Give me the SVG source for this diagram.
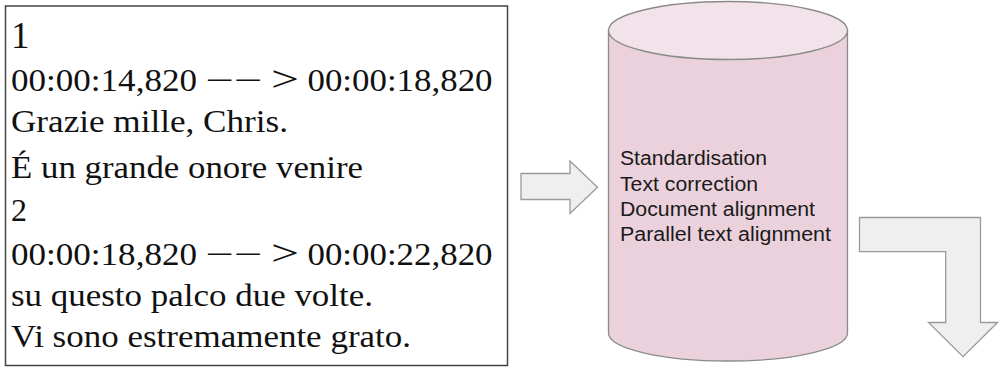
<svg xmlns="http://www.w3.org/2000/svg" width="999" height="368" viewBox="0 0 999 368">
<style>
.sub{font-family:"Liberation Serif","Times New Roman",serif;font-size:32px;fill:#111}
.gt{font-size:36px}
.lbl{font-family:"Liberation Sans",Arial,sans-serif;font-size:20px;fill:#1a1a1a}
.arrow{fill:#efefef;stroke:#9a9a9a;stroke-width:1.3;stroke-linejoin:miter}
</style>
<rect width="999" height="368" fill="#ffffff"/>
<g id="subtitle-box">
<rect x="5.5" y="6" width="502" height="359.5" fill="#ffffff" stroke="#444444" stroke-width="1.5"/>
<text class="sub" x="11" y="47.5" style="font-size:37px">1</text>
<text class="sub" y="90.5"><tspan x="11" textLength="186" lengthAdjust="spacingAndGlyphs">00:00:14,820</tspan> <tspan x="205" textLength="57" lengthAdjust="spacingAndGlyphs">−−</tspan> <tspan class="gt" x="271" textLength="28" lengthAdjust="spacingAndGlyphs">&gt;</tspan> <tspan x="307.5" textLength="185" lengthAdjust="spacingAndGlyphs">00:00:18,820</tspan></text>
<text class="sub" x="11" y="131.7" textLength="277" lengthAdjust="spacingAndGlyphs">Grazie mille, Chris.</text>
<text class="sub" x="11" y="178.3" textLength="352" lengthAdjust="spacingAndGlyphs">É un grande onore venire</text>
<text class="sub" x="11" y="220.7">2</text>
<text class="sub" y="265"><tspan x="11" textLength="186" lengthAdjust="spacingAndGlyphs">00:00:18,820</tspan> <tspan x="205" textLength="57" lengthAdjust="spacingAndGlyphs">−−</tspan> <tspan class="gt" x="271" textLength="28" lengthAdjust="spacingAndGlyphs">&gt;</tspan> <tspan x="307.5" textLength="185" lengthAdjust="spacingAndGlyphs">00:00:22,820</tspan></text>
<text class="sub" x="11" y="306" textLength="362" lengthAdjust="spacingAndGlyphs">su questo palco due volte.</text>
<text class="sub" x="11" y="346.7" textLength="400" lengthAdjust="spacingAndGlyphs">Vi sono estremamente grato.</text>
</g>
<g id="processing-cylinder">
<path d="M608.5,30.5 V333 A119.5,28 0 0 0 847.5,333 V30.5 Z" fill="#ead1dc" stroke="#8a8a8a" stroke-width="1.3"/>
<ellipse cx="728" cy="30.5" rx="119.5" ry="29" fill="#f2e2ea" stroke="#8a8a8a" stroke-width="1.3"/>
<text class="lbl" x="620" y="165" textLength="147" lengthAdjust="spacingAndGlyphs">Standardisation</text>
<text class="lbl" x="620" y="191" textLength="138" lengthAdjust="spacingAndGlyphs">Text correction</text>
<text class="lbl" x="620" y="216" textLength="195" lengthAdjust="spacingAndGlyphs">Document alignment</text>
<text class="lbl" x="620" y="241" textLength="211" lengthAdjust="spacingAndGlyphs">Parallel text alignment</text>
</g>
<g id="connectors">
<path class="arrow" d="M521,173.5 H570 V161 L597.5,187.3 L570,213.5 V199.5 H521 Z"/>
<path class="arrow" d="M859.5,217.5 H980.5 V322.5 H997.5 L963,356.7 L928.5,322.5 H945.7 V251.7 H859.5 Z"/>
</g>
</svg>
